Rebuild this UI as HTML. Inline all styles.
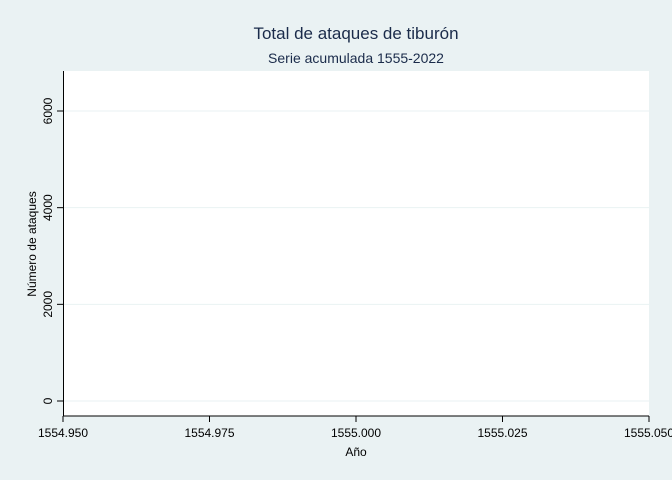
<!DOCTYPE html>
<html><head><meta charset="utf-8"><style>
body{margin:0;background:#eaf2f3;}
svg{display:block;font-family:"Liberation Sans",sans-serif;}
</style></head><body>
<svg width="672" height="480" viewBox="0 0 672 480">
<rect x="0" y="0" width="672" height="480" fill="#eaf2f3"/>
<rect x="63" y="71" width="586" height="345" fill="#ffffff"/>
<text x="356" y="39" text-anchor="middle" font-size="17" fill="#1a2b4a">Total de ataques de tiburón</text>
<text x="356" y="63" text-anchor="middle" font-size="14" fill="#1a2b4a">Serie acumulada 1555-2022</text>
<g id="grid"></g>
<g id="axes"></g>
<text x="356" y="456" text-anchor="middle" font-size="12" fill="#000">Año</text>
<text transform="translate(36,244) rotate(-90)" text-anchor="middle" font-size="12" fill="#000">Número de ataques</text>
</svg>
<script>
const yTicks=[0,2000,4000,6000];
const xTicks=[1554.95,1554.975,1555.0,1555.025,1555.05];
const xLabels=["1554.950","1554.975","1555.000","1555.025","1555.050"];
const years=[];
const values=[];
const NS="http://www.w3.org/2000/svg";
function yS(v){return 401-v*(290/6000);}
function xS(v){return 63+(v-1554.95)/0.1*586;}
const grid=document.getElementById('grid'),axes=document.getElementById('axes');
function mk(t,a,p){const e=document.createElementNS(NS,t);for(const k in a)e.setAttribute(k,a[k]);p.appendChild(e);return e;}
yTicks.forEach(v=>{
 const y=yS(v);
 const g=mk('line',{x1:63,x2:649,y1:y,y2:y,stroke:'#eaf2f3','stroke-width':1},grid);
 
 
 const t=mk('line',{x1:57,x2:63,y1:y,y2:y,stroke:'#000'},axes);
 
 
 const l=mk('text',{transform:`translate(52,${y}) rotate(-90)`,'text-anchor':'middle','font-size':12},axes);
 l.textContent=v;
 
 
});
xTicks.forEach((v,i)=>{
 const x=xS(v);
 const t=mk('line',{x1:x,x2:x,y1:416,y2:422,stroke:'#000'},axes);
 
 
 const l=mk('text',{x:x,y:437,'text-anchor':'middle','font-size':12},axes);
 l.textContent=xLabels[i];
 
 
});
const ya=mk('line',{x1:63.5,x2:63.5,y1:71,y2:416,stroke:'#000'},axes);


const xa=mk('line',{x1:63,x2:649,y1:416,y2:416,stroke:'#000'},axes);


if(years.length){
 const p=mk('polyline',{points:years.map((y,i)=>xS(y)+','+yS(values[i])).join(' '),fill:'none',stroke:'#1a476f'},axes);
 
 
}
</script>
</body></html>
